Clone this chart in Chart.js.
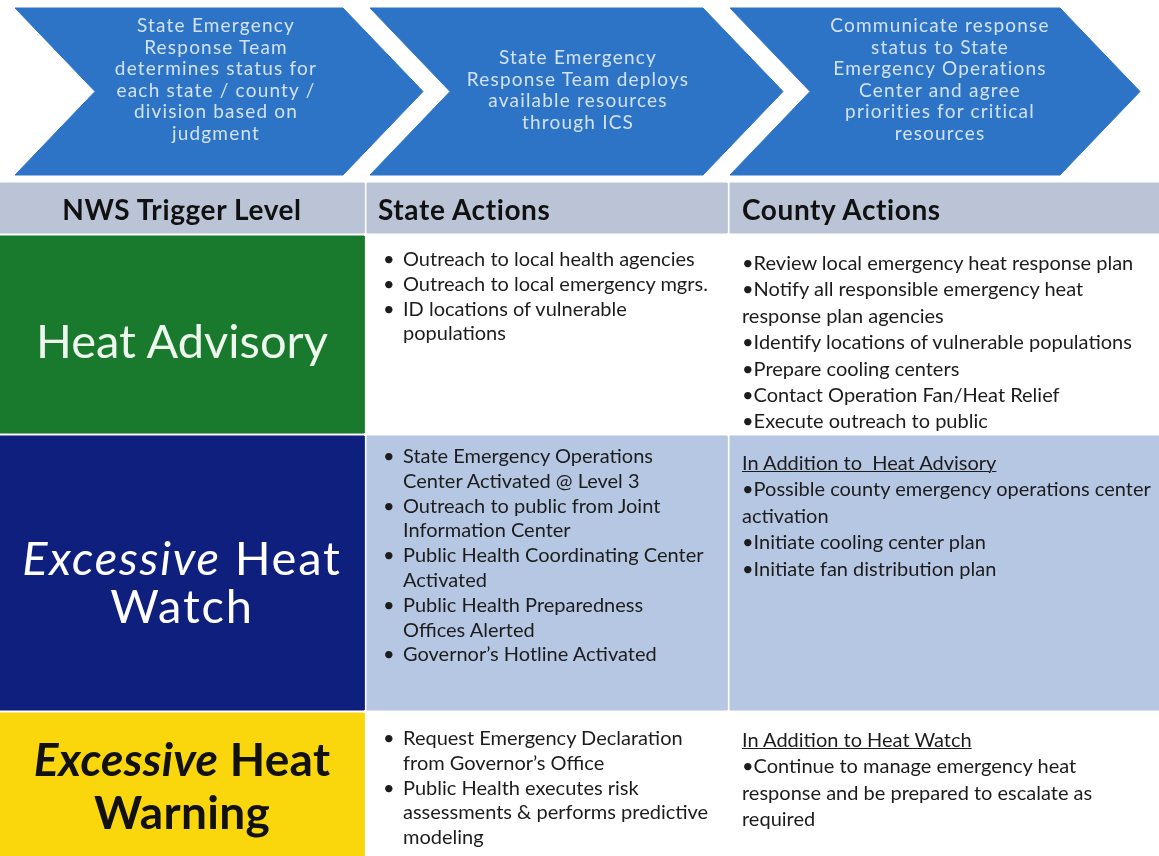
<!DOCTYPE html>
<html>
<head>
<meta charset="utf-8">
<script src="https://cdn.jsdelivr.net/npm/chart.js@4.4.0/dist/chart.umd.min.js"></script>
<style>
  html, body { margin: 0; padding: 0; background: #fff; }
  #wrap { position: relative; width: 1159px; height: 856px; overflow: hidden; font-family: Lato, "Open Sans", sans-serif; }
  #chart { position: absolute; left: 0; top: 0; }
  .t { position: absolute; white-space: nowrap; }
  .step { color: #d3e2f5; font-size: 19px; letter-spacing: 1.2px; line-height: 21.6px; text-align: center; transform: translateX(-50%); }
  .head { font-weight: bold; font-size: 28px; letter-spacing: 0.6px; color: #111; line-height: 34px; }
  .level { text-align: center; width: 364px; left: 0; }
  .state { font-size: 20px; line-height: 24.8px; color: #1c1c1c; }
  .state .item { position: relative; padding-left: 20px; }
  .state .item::before { content: "\2022"; position: absolute; left: 0; }
  .county { font-size: 20px; line-height: 26.4px; color: #1c1c1c; }
  .county u { text-decoration-thickness: 1px; }
</style>
</head>
<body>
<div id="wrap">
  <canvas id="chart" width="1159" height="856"></canvas>
  <div id="labels"></div>
</div>
<script>
// top process steps (chevrons)
const STEPS = [
  "State Emergency\nResponse Team\ndetermines status for\neach state / county /\ndivision based on\njudgment",
  "State Emergency\nResponse Team deploys\navailable resources\nthrough ICS",
  "Communicate response\nstatus to State\nEmergency Operations\nCenter and agree\npriorities for critical\nresources",
];

const HEADERS = ["NWS Trigger Level", "State Actions", "County Actions"];

// *word* = italic
const LEVELS = ["Heat Advisory", "*Excessive* Heat\nWatch", "*Excessive* Heat\nWarning"];

const STATE_ACTIONS = [
  ["Outreach to local health agencies", "Outreach to local emergency mgrs.", "ID locations of vulnerable\npopulations"],
  ["State Emergency Operations\nCenter Activated @ Level 3", "Outreach to public from Joint\nInformation Center",
   "Public Health Coordinating Center\nActivated", " Public Health Preparedness\nOffices Alerted", "Governor\u2019s Hotline Activated"],
  ["Request Emergency Declaration\nfrom Governor\u2019s Office", "Public Health executes risk\nassessments & performs predictive\nmodeling"],
];

const COUNTY_HEADS = ["", "In Addition to  Heat Advisory", "In Addition to Heat Watch"];
const COUNTY_ACTIONS = [
  ["Review local emergency heat response plan", "Notify all responsible emergency heat\nresponse plan agencies",
   "Identify locations of vulnerable populations", "Prepare cooling centers", "Contact Operation Fan/Heat Relief",
   "Execute outreach to public"],
  ["Possible county emergency operations center\nactivation", "Initiate cooling center plan", "Initiate fan distribution plan"],
  ["Continue to manage emergency heat\nresponse and be prepared to escalate as\nrequired"],
];

// styling
const ARROW_COLOR = "#2d74c7";
const HEADER_COLOR = "#bac4d6";
const LEVEL_COLORS = ["#19792c", "#0f1f7d", "#f9d70c"];
const LEVEL_TEXT = ["#eef7ee", "#ffffff", "#111111"];
const LEVEL_WEIGHT = ["normal", "normal", "bold"];
const LEVEL_FONT = [47, 47, 46];
const LEVEL_TRACK = [0, 1.8, 0.3];
const LEVEL_LINE = [48, 48, 53];
const ROW_FILLS = ["#ffffff", "#b6c7e3", "#ffffff"];

// layout (px)
const ARROW_LEFT = [15, 370, 730];
const ARROW_RIGHT = [343, 703, 1060];
const ARROW_TOP = 8, ARROW_BOTTOM = 175, ARROW_DEPTH = 80;
const COLS = [[0, 364], [367, 727], [730, 1159]];
const HEAD_ROW = [183, 233];
const ROWS = [[236, 433], [436, 710], [713, 856]];
const STEP_TEXT = [{ x: 216, y: 14 }, { x: 578, y: 46 }, { x: 940, y: 14 }];
const LEVEL_MID = [340, 581, 785];
const STATE_TOP = [246, 443, 725];
const COUNTY_TOP = [249, 449, 726];

function rect(x0, x1, y0, y1) {
  return [{ x: x0, y: y0 }, { x: x1, y: y0 }, { x: x1, y: y1 }, { x: x0, y: y1 }, { x: x0, y: y0 }];
}

function chevron(left, right) {
  const mid = (ARROW_TOP + ARROW_BOTTOM) / 2;
  return [
    { x: left, y: ARROW_TOP }, { x: right, y: ARROW_TOP }, { x: right + ARROW_DEPTH, y: mid },
    { x: right, y: ARROW_BOTTOM }, { x: left, y: ARROW_BOTTOM }, { x: left + ARROW_DEPTH, y: mid },
    { x: left, y: ARROW_TOP },
  ];
}

function shape(points, color) {
  return {
    data: points,
    showLine: true,
    fill: "shape",
    backgroundColor: color,
    borderColor: color,
    borderWidth: 1,
    pointRadius: 0,
    tension: 0,
  };
}

const datasets = [];
STEPS.forEach((_, i) => datasets.push(shape(chevron(ARROW_LEFT[i], ARROW_RIGHT[i]), ARROW_COLOR)));
COLS.forEach((c) => datasets.push(shape(rect(c[0], c[1], HEAD_ROW[0], HEAD_ROW[1]), HEADER_COLOR)));
ROWS.forEach((r, i) => {
  datasets.push(shape(rect(COLS[0][0], COLS[0][1], r[0], r[1]), LEVEL_COLORS[i]));
  datasets.push(shape(rect(COLS[1][0], COLS[1][1], r[0], r[1]), ROW_FILLS[i]));
  datasets.push(shape(rect(COLS[2][0], COLS[2][1], r[0], r[1]), ROW_FILLS[i]));
});

new Chart(document.getElementById("chart"), {
  type: "scatter",
  data: { datasets },
  options: {
    responsive: false,
    animation: false,
    devicePixelRatio: 1,
    layout: { padding: 0 },
    scales: {
      x: { type: "linear", min: 0, max: 1159, display: false },
      y: { type: "linear", min: 0, max: 856, reverse: true, display: false },
    },
    plugins: { legend: { display: false }, tooltip: { enabled: false } },
  },
});

// text layer
const labels = document.getElementById("labels");
function add(cls, html, style) {
  const d = document.createElement("div");
  d.className = "t " + cls;
  d.innerHTML = html;
  Object.assign(d.style, style);
  labels.appendChild(d);
  return d;
}
const br = (s) => s.replace(/\*(.+?)\*/g, "<i>$1</i>").split("\n").join("<br>");

STEPS.forEach((s, i) => add("step", br(s), { left: STEP_TEXT[i].x + "px", top: STEP_TEXT[i].y + "px" }));

add("head", HEADERS[0], { left: "0px", width: "364px", textAlign: "center", top: "192px" });
add("head", HEADERS[1], { left: "378px", top: "192px" });
add("head", HEADERS[2], { left: "742px", top: "192px" });

LEVELS.forEach((l, i) => {
  const lines = l.split("\n").length;
  add("level", br(l), {
    top: LEVEL_MID[i] - (lines * LEVEL_LINE[i]) / 2 + "px",
    color: LEVEL_TEXT[i],
    fontWeight: LEVEL_WEIGHT[i],
    fontSize: LEVEL_FONT[i] + "px",
    lineHeight: LEVEL_LINE[i] + "px",
    letterSpacing: LEVEL_TRACK[i] + "px",
  });
});

STATE_ACTIONS.forEach((items, i) => {
  add("state", items.map((s) => `<div class="item">${br(s)}</div>`).join(""), {
    left: "383px",
    top: STATE_TOP[i] + "px",
  });
});

COUNTY_ACTIONS.forEach((items, i) => {
  const head = COUNTY_HEADS[i] ? `<div><u>${COUNTY_HEADS[i].replace(/ /g, "&nbsp;")}</u></div>` : "";
  add("county", head + items.map((s) => `<div>\u2022${br(s)}</div>`).join(""), {
    left: "742px",
    top: COUNTY_TOP[i] + "px",
  });
});
</script>
</body>
</html>
